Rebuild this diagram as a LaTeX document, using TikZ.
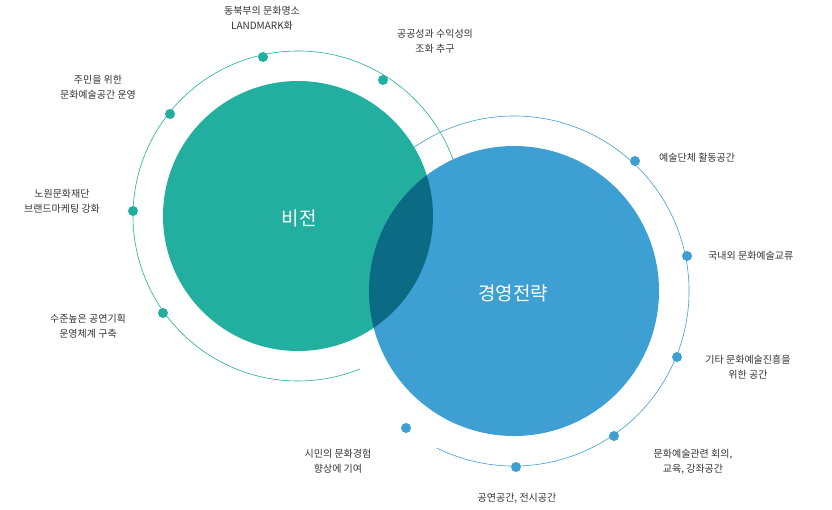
\documentclass[tikz,border=0pt]{standalone}
\usepackage{fontspec}
\setmainfont{Noto Sans CJK KR}
\definecolor{visgreen}{HTML}{22AFA0}
\definecolor{strblue}{HTML}{3E9FD3}
\definecolor{mixteal}{HTML}{0B6B84}
\definecolor{labelgray}{HTML}{333333}
\begin{document}
\begin{tikzpicture}[x=1pt,y=-1pt,
  gdot/.style = {circle,fill=visgreen,inner sep=0pt,minimum size=10pt},
  bdot/.style = {circle,fill=strblue,inner sep=0pt,minimum size=10pt},
  lbl/.style = {text=labelgray,font=\fontsize{10}{15}\selectfont,align=center,inner sep=0pt},
  big/.style = {text=white,font=\fontsize{19}{22}\selectfont,inner sep=0pt}]
\useasboundingbox (0,0) rectangle (832,509);
% rings
\draw[visgreen,semithick] (298,216) ++(31:165) arc[start angle=31,end angle=-292,radius=165];
\draw[strblue,semithick] (514,291) ++(116:175) arc[start angle=116,end angle=-152,radius=175];
% circles
\fill[visgreen] (298,216) circle[radius=135];
\fill[strblue] (514,291) circle[radius=145];
\begin{scope}
\clip (298,216) circle[radius=135];
\fill[mixteal] (514,291) circle[radius=145];
\end{scope}
\node[big] (vision) at (299,218) {비전};
\node[big] (strategy) at (513,293) {경영전략};
% dots
\node[gdot] (g1) at (263,57) {};
\node[gdot] (g2) at (383,80) {};
\node[gdot] (g3) at (170,114) {};
\node[gdot] (g4) at (133,211) {};
\node[gdot] (g5) at (163,313) {};
\node[bdot] (b1) at (635,161) {};
\node[bdot] (b2) at (687,256) {};
\node[bdot] (b3) at (677,357) {};
\node[bdot] (b4) at (614,436) {};
\node[bdot] (b5) at (516,467) {};
\node[bdot] (b6) at (406,428) {};
% labels
\node[lbl] (t1) at (262,18) {동북부의 문화명소\\LANDMARK화};
\node[lbl] (t2) at (435,41) {공공성과 수익성의\\조화 추구};
\node[lbl] (t3) at (98,87) {주민을 위한\\문화예술공간 운영};
\node[lbl] (t4) at (62,201) {노원문화재단\\브랜드마케팅 강화};
\node[lbl] (t5) at (88,326) {수준높은 공연기획\\운영체계 구축};
\node[lbl,anchor=west] (t6) at (659,158) {예술단체 활동공간};
\node[lbl,anchor=west] (t7) at (708,256) {국내외 문화예술교류};
\node[lbl] (t8) at (748,367) {기타 문화예술진흥을\\위한 공간};
\node[lbl] (t9) at (693,462) {문화예술관련 회의,\\교육, 강좌공간};
\node[lbl] (t10) at (517,498) {공연공간, 전시공간};
\node[lbl] (t11) at (338,461) {시민의 문화경험\\향상에 기여};
\end{tikzpicture}
\end{document}
